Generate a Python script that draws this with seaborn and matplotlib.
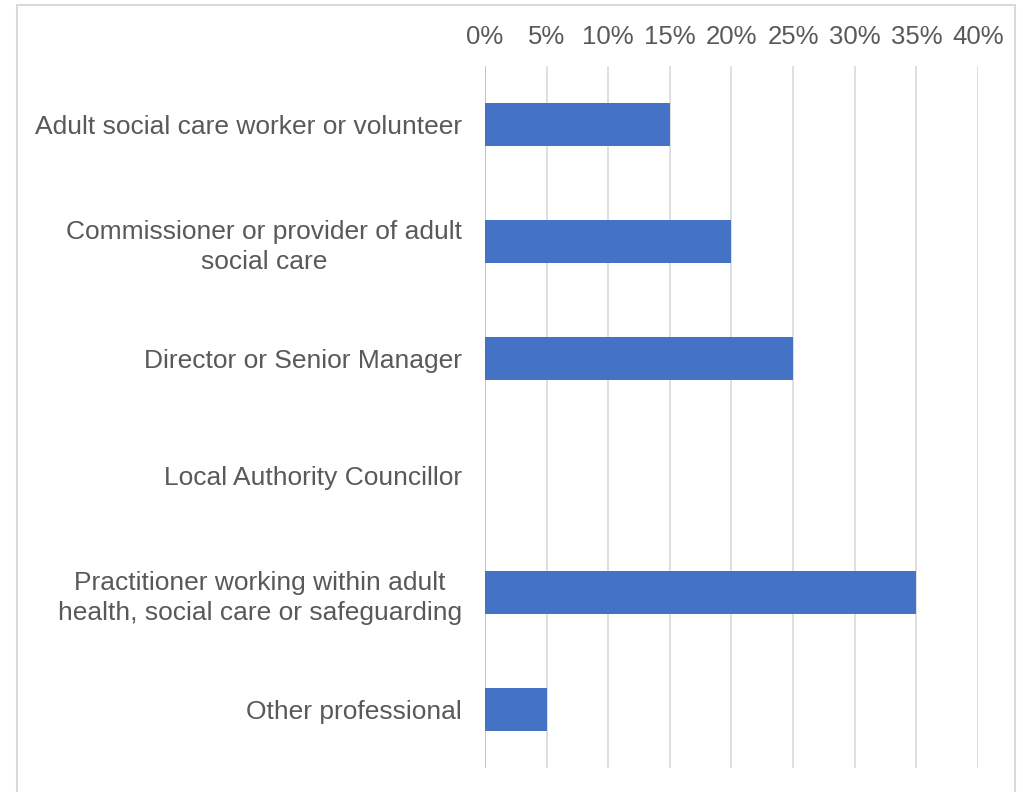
import matplotlib
matplotlib.use("Agg")
import matplotlib.pyplot as plt
import matplotlib.patches as mpatches
from matplotlib.ticker import FuncFormatter
import seaborn as sns
import pandas as pd

roles = [
    "Adult social care worker or volunteer",
    "Commissioner or provider of adult\nsocial care",
    "Director or Senior Manager",
    "Local Authority Councillor",
    "Practitioner working within adult\nhealth, social care or safeguarding",
    "Other professional",
]
shares = [15, 20, 25, 0, 35, 5]
x_ticks = [0, 5, 10, 15, 20, 25, 30, 35, 40]

df = pd.DataFrame({"role": roles, "share": shares})

sns.set_theme(style="white")
plt.rcParams["font.family"] = ["Liberation Sans", "DejaVu Sans"]

text_color = "#595959"
grid_color = "#D9D9D9"

fig = plt.figure(figsize=(10.23, 7.92), dpi=100)
ax = fig.add_axes([0.4741, 0.0303, 0.4819, 0.8864])

sns.barplot(data=df, x="share", y="role", color="#4472C4", width=0.36,
            saturation=1, linewidth=0, ax=ax, zorder=3)

ax.set_xlim(0, 40)
ax.set_xticks(x_ticks)
ax.xaxis.set_major_formatter(FuncFormatter(lambda v, _: f"{v:.0f}%"))
ax.xaxis.tick_top()
ax.set_xlabel("")
ax.set_ylabel("")
for s in ax.spines.values():
    s.set_visible(False)
ax.grid(axis="x", color=grid_color, linewidth=1.2, zorder=0)
ax.grid(axis="y", visible=False)
ax.axvline(0, color="#BFBFBF", linewidth=1.2, zorder=1)
ax.tick_params(axis="x", length=0, pad=12.5, labelsize=18.5, labelcolor=text_color)
ax.tick_params(axis="y", length=0, pad=16.5, labelsize=19, labelcolor=text_color)
for lbl in ax.get_yticklabels():
    lbl.set_multialignment("center")
    lbl.set_linespacing(1.3)

# outer chart frame
frame = mpatches.Rectangle((17 / 1023, -0.01), (1015 - 17) / 1023, 1 - 5 / 792 + 0.01,
                           transform=fig.transFigure, fill=False,
                           edgecolor=grid_color, linewidth=1.5, clip_on=False)
fig.patches.append(frame)

fig.savefig("out.png", dpi=100)
